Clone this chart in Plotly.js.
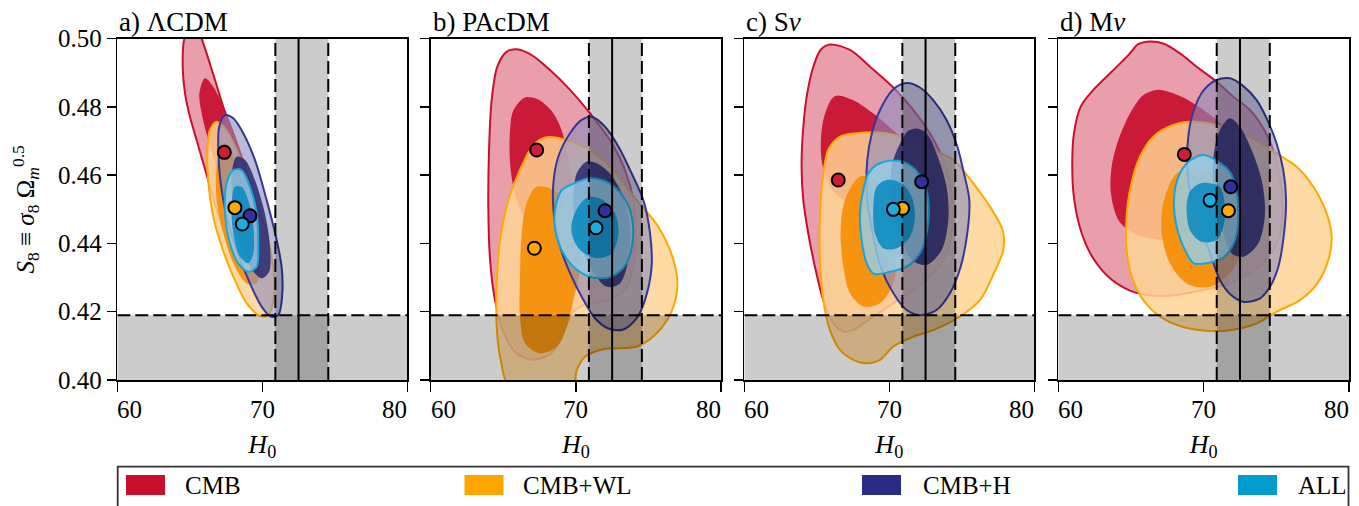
<!DOCTYPE html>
<html><head><meta charset="utf-8">
<script src="https://cdn.plot.ly/plotly-3.0.1.min.js"></script>
<style>html,body{margin:0;padding:0;background:#fff;}#chart{width:1359px;height:506px;}</style>
</head><body><div id="chart"></div>
<script>
// ---------------- DATA ----------------
const datasets = ['CMB', 'CMB+WL', 'CMB+H', 'ALL'];
const panelTitles = ['a) \u039BCDM', 'b) PAcDM', 'c) S<i>\u03BD</i>', 'd) M<i>\u03BD</i>'];
const xTickVals = [60, 70, 80];
const yTickVals = [0.40, 0.42, 0.44, 0.46, 0.48, 0.50];
const xRange = [60, 80];
const yRange = [0.40, 0.50];
const H0_local = 72.5, H0_local_lo = 70.9, H0_local_hi = 74.55;
const S8_limit = 0.419;

// contour outlines [H0, S8] (95% and 68%)
const LCDM_CMB_95 = [[64.9,0.5025],[64.62,0.500],[64.51,0.4918],[64.67,0.484],[65.01,0.4771],[65.47,0.4703],[65.93,0.4635],[66.39,0.4566],[66.85,0.4498],[67.31,0.4439],[67.89,0.4371],[68.57,0.4327],[69.26,0.4317],[69.56,0.4342],[69.61,0.44],[69.49,0.4479],[69.15,0.4566],[68.57,0.4654],[68.0,0.4723],[67.31,0.48],[66.74,0.4879],[66.16,0.4957],[65.82,0.50],[65.6,0.5025]];
const LCDM_CMB_68 = [[66.05,0.4884],[66.62,0.4859],[67.31,0.48],[68.0,0.4723],[68.57,0.4645],[69.03,0.4557],[69.15,0.4479],[68.8,0.443],[68.23,0.4449],[67.54,0.4527],[66.85,0.4625],[66.28,0.4703],[65.82,0.4781],[65.66,0.484]];
const LCDM_WL_95 = [[66.85,0.4757],[66.39,0.4732],[66.21,0.4674],[66.28,0.4576],[66.62,0.4479],[67.2,0.4391],[68.0,0.4303],[68.92,0.4225],[69.84,0.4188],[70.41,0.419],[70.76,0.4234],[70.8,0.4313],[70.41,0.441],[69.72,0.4508],[68.92,0.4605],[68.11,0.4684],[67.43,0.4737]];
const LCDM_WL_68 = [[67.31,0.4693],[66.85,0.4625],[66.85,0.4527],[67.31,0.443],[68.0,0.4342],[68.92,0.4283],[69.61,0.4283],[69.84,0.4342],[69.61,0.4439],[68.92,0.4547],[68.11,0.4645],[67.66,0.4688]];
const LCDM_H_95 = [[67.43,0.4776],[67.03,0.4742],[66.97,0.4674],[67.13,0.4576],[67.54,0.4479],[68.23,0.4381],[69.15,0.4283],[69.95,0.4215],[70.57,0.4186],[71.1,0.419],[71.38,0.4254],[71.33,0.4332],[70.99,0.441],[70.3,0.4527],[69.49,0.4645],[68.69,0.4723],[68.0,0.4767]];
const LCDM_H_68 = [[68.23,0.4654],[67.89,0.4605],[68.0,0.4508],[68.46,0.441],[69.15,0.4332],[69.95,0.4298],[70.48,0.4318],[70.53,0.4391],[70.18,0.4488],[69.49,0.4586],[68.8,0.4645]];
const LCDM_ALL_95 = [[68.0,0.4615],[67.54,0.4576],[67.43,0.4488],[67.77,0.44],[68.34,0.4342],[69.03,0.4317],[69.61,0.4332],[69.72,0.4391],[69.61,0.4488],[69.15,0.4566],[68.57,0.4615]];
const LCDM_ALL_68 = [[68.11,0.4566],[67.89,0.4508],[68.0,0.443],[68.46,0.4361],[69.03,0.4342],[69.38,0.4371],[69.38,0.4449],[69.03,0.4527],[68.57,0.4566]];

const PAcDM_CMB_95 = [[65.92,0.4969],[66.96,0.4952],[68.22,0.4908],[69.6,0.485],[70.98,0.4781],[72.35,0.4703],[73.39,0.4615],[73.96,0.4527],[74.14,0.443],[74.0,0.4342],[73.5,0.4273],[72.35,0.4234],[70.75,0.4223],[69.83,0.42],[69.37,0.4161],[68.91,0.4112],[68.22,0.4076],[67.07,0.4059],[65.92,0.4078],[65.05,0.4137],[64.43,0.4234],[64.09,0.4352],[63.97,0.4508],[64.02,0.4674],[64.2,0.482],[64.59,0.4918],[65.24,0.4962]];
const PAcDM_CMB_68 = [[66.5,0.4828],[67.4,0.4822],[68.3,0.479],[68.9,0.4745],[69.3,0.469],[69.6,0.462],[69.8,0.455],[69.7,0.448],[69.2,0.442],[68.4,0.439],[67.5,0.441],[66.6,0.446],[65.9,0.453],[65.5,0.462],[65.45,0.472],[65.7,0.479]];
const PAcDM_WL_95 = [[67.99,0.4711],[69.37,0.4703],[70.98,0.4674],[72.58,0.4615],[74.19,0.4527],[75.68,0.4449],[76.72,0.4352],[76.99,0.4273],[76.53,0.4195],[75.57,0.4137],[74.19,0.4098],[71.89,0.409],[70.63,0.4068],[70.06,0.4029],[69.78,0.398],[65.47,0.398],[64.82,0.4059],[64.55,0.4156],[64.55,0.4283],[64.78,0.441],[65.35,0.4527],[66.15,0.4615],[67.07,0.4688]];
const PAcDM_WL_68 = [[67.3,0.4566],[68.45,0.4557],[69.37,0.4508],[70.06,0.443],[70.29,0.4332],[69.83,0.4234],[69.37,0.4156],[68.68,0.4098],[67.53,0.4078],[66.5,0.4107],[66.15,0.4186],[66.15,0.4303],[66.27,0.443],[66.61,0.4518]];
const PAcDM_H_95 = [[71.09,0.4771],[72.01,0.4742],[72.93,0.4684],[73.85,0.4605],[74.65,0.4527],[75.11,0.443],[75.22,0.4332],[74.76,0.4234],[74.19,0.4181],[73.27,0.4148],[72.24,0.4151],[71.32,0.4181],[70.4,0.4244],[69.6,0.4313],[68.91,0.4391],[68.5,0.4479],[68.45,0.4576],[68.79,0.4654],[69.6,0.4723],[70.4,0.4762]];
const PAcDM_H_68 = [[70.75,0.464],[70.06,0.4605],[69.83,0.4527],[70.06,0.443],[70.98,0.4332],[72.12,0.4273],[73.04,0.4283],[73.62,0.4352],[73.73,0.4449],[73.27,0.4537],[72.35,0.4605],[71.44,0.4635]];
const PAcDM_ALL_95 = [[69.6,0.4571],[70.98,0.4591],[72.24,0.4578],[73.27,0.4537],[73.85,0.4479],[73.92,0.441],[73.5,0.4342],[72.47,0.4303],[71.09,0.4301],[69.83,0.4332],[68.96,0.4386],[68.52,0.4459],[68.68,0.4522],[69.03,0.4556]];
const PAcDM_ALL_68 = [[70.52,0.4527],[69.83,0.4479],[69.71,0.443],[70.29,0.4381],[71.44,0.4357],[72.47,0.4371],[72.93,0.443],[72.7,0.4488],[71.89,0.4527],[71.09,0.4537]];

const Snu_CMB_95 = [[65.91,0.4983],[67.29,0.4967],[68.67,0.4918],[70.28,0.4857],[71.66,0.4791],[72.8,0.4723],[73.72,0.4645],[74.3,0.4547],[74.34,0.4449],[73.95,0.4371],[73.03,0.4313],[71.66,0.4264],[70.28,0.4225],[68.9,0.4186],[67.52,0.4147],[66.83,0.4142],[66.14,0.4166],[65.45,0.4234],[64.87,0.4332],[64.41,0.443],[64.07,0.4527],[63.95,0.4625],[64.07,0.4742],[64.34,0.484],[64.76,0.4918],[65.26,0.4967]];
const Snu_CMB_68 = [[66.25,0.4832],[67.52,0.482],[68.9,0.4781],[70.51,0.4723],[72.11,0.4664],[73.26,0.4586],[73.72,0.4488],[73.26,0.4391],[72.11,0.4342],[70.51,0.4371],[68.9,0.443],[67.29,0.4508],[65.91,0.4566],[65.33,0.4645],[65.45,0.4762]];
const Snu_WL_95 = [[68.21,0.4725],[69.82,0.4723],[71.43,0.4703],[73.03,0.4674],[74.41,0.4645],[75.79,0.4576],[76.94,0.4508],[77.82,0.4439],[77.86,0.4381],[77.22,0.4313],[76.25,0.4234],[74.87,0.4186],[73.03,0.4146],[71.66,0.4127],[70.28,0.4098],[69.36,0.4059],[68.44,0.4049],[67.52,0.4059],[66.6,0.4088],[65.91,0.4146],[65.45,0.4234],[65.22,0.4352],[65.22,0.4479],[65.45,0.4605],[65.79,0.4674],[66.6,0.4713]];
const Snu_WL_68 = [[67.98,0.4596],[69.01,0.4586],[69.82,0.4547],[70.28,0.4479],[70.51,0.4381],[70.28,0.4283],[69.36,0.4225],[68.21,0.4215],[67.29,0.4254],[66.83,0.4332],[66.64,0.443],[66.94,0.4527]];
const Snu_H_95 = [[71.2,0.487],[72.11,0.4857],[73.03,0.482],[73.95,0.4762],[74.69,0.4684],[75.15,0.4605],[75.52,0.4527],[75.38,0.443],[74.92,0.4332],[74.18,0.4254],[73.26,0.4205],[72.11,0.419],[71.2,0.4205],[70.28,0.4254],[69.4,0.4332],[68.85,0.443],[68.48,0.4527],[68.48,0.4645],[68.8,0.4723],[69.36,0.4791],[70.23,0.485]];
const Snu_H_68 = [[71.89,0.4737],[72.57,0.4723],[73.26,0.4664],[73.95,0.4566],[74.07,0.4469],[73.61,0.4381],[72.57,0.4337],[71.54,0.4352],[70.74,0.443],[70.16,0.4527],[70.16,0.4625],[70.74,0.4693],[71.31,0.473]];
const Snu_ALL_95 = [[69.13,0.463],[70.28,0.4643],[71.43,0.463],[72.3,0.4586],[72.69,0.4527],[72.62,0.4439],[72.11,0.4371],[71.2,0.4332],[70.05,0.4317],[68.94,0.4311],[68.44,0.4342],[68.09,0.441],[67.98,0.4488],[68.21,0.4557],[68.55,0.4605]];
const Snu_ALL_68 = [[69.82,0.4586],[69.13,0.4566],[68.9,0.4508],[69.01,0.443],[69.59,0.4386],[70.51,0.4386],[71.43,0.442],[71.77,0.4479],[71.54,0.4537],[70.86,0.4576]];

const Mnu_CMB_95 = [[66.08,0.4991],[67.22,0.4986],[68.37,0.4957],[69.52,0.4918],[70.89,0.4874],[72.04,0.483],[73.19,0.4791],[74.11,0.4737],[74.79,0.4674],[75.25,0.4586],[75.44,0.4498],[75.14,0.441],[74.33,0.4352],[73.19,0.4313],[71.81,0.4283],[69.98,0.4264],[68.14,0.4249],[66.54,0.4247],[64.93,0.4262],[63.56,0.4298],[62.41,0.4356],[61.61,0.443],[61.1,0.4527],[60.96,0.4625],[61.08,0.4723],[61.54,0.4801],[62.41,0.485],[63.67,0.4903],[64.82,0.4952],[65.5,0.4984]];
const Mnu_CMB_68 = [[66.77,0.485],[67.91,0.484],[69.29,0.4811],[70.89,0.4762],[72.27,0.4703],[73.42,0.4625],[73.88,0.4547],[73.65,0.4469],[72.73,0.442],[71.12,0.4405],[69.06,0.4405],[67.0,0.441],[65.16,0.443],[64.13,0.4469],[63.62,0.4547],[63.67,0.4625],[64.13,0.4703],[64.93,0.4781],[65.85,0.4835]];
const Mnu_WL_95 = [[69.52,0.4757],[71.35,0.4742],[73.19,0.4713],[75.02,0.4664],[76.4,0.4625],[77.55,0.4566],[78.46,0.4488],[78.81,0.442],[78.58,0.4352],[77.82,0.4283],[76.63,0.4234],[75.02,0.42],[73.65,0.4166],[71.81,0.4146],[69.98,0.4145],[68.37,0.4158],[66.99,0.4186],[65.85,0.4234],[65.05,0.4303],[64.7,0.4381],[64.7,0.4479],[64.98,0.4566],[65.62,0.4654],[66.54,0.4713],[67.91,0.4747]];
const Mnu_WL_68 = [[68.14,0.4605],[69.52,0.4615],[70.89,0.4605],[72.04,0.4566],[72.73,0.4488],[72.73,0.4391],[71.81,0.4313],[70.44,0.4273],[68.83,0.4283],[67.68,0.4342],[67.11,0.443],[67.22,0.4518]];
const Mnu_H_95 = [[70.89,0.4879],[71.81,0.4884],[72.73,0.4861],[73.65,0.482],[74.38,0.4762],[75.02,0.4693],[75.48,0.4615],[75.67,0.4527],[75.53,0.443],[75.14,0.4332],[74.56,0.4273],[73.88,0.4239],[72.73,0.4229],[71.81,0.4252],[71.12,0.4293],[70.44,0.4371],[69.75,0.4449],[69.17,0.4527],[68.88,0.4625],[68.97,0.4723],[69.33,0.4791],[69.98,0.4848]];
const Mnu_H_68 = [[71.81,0.4767],[72.5,0.4742],[73.3,0.4674],[73.99,0.4586],[74.22,0.4488],[73.76,0.44],[72.73,0.4361],[71.93,0.4371],[71.35,0.443],[70.89,0.4508],[70.62,0.4605],[70.78,0.4684],[71.24,0.4742]];
const Mnu_ALL_95 = [[69.06,0.4643],[69.98,0.4659],[70.89,0.4643],[71.81,0.461],[72.22,0.4562],[72.39,0.4488],[72.16,0.441],[71.35,0.4359],[70.21,0.4342],[69.33,0.4342],[68.83,0.4371],[68.26,0.443],[67.96,0.4508],[68.14,0.4581],[68.56,0.462]];
const Mnu_ALL_68 = [[69.75,0.4576],[69.06,0.4552],[68.83,0.4508],[69.06,0.4439],[69.86,0.4405],[70.89,0.441],[71.35,0.4449],[71.47,0.4508],[71.12,0.4566],[70.55,0.4576]];

// best-fit points (order: CMB, CMB+WL, CMB+H, ALL)
const LCDM_bf_H0 = [67.38, 68.11, 69.15, 68.62];
const LCDM_bf_S8 = [0.4667, 0.4505, 0.4481, 0.4457];
const PAcDM_bf_H0 = [67.30, 67.14, 72.01, 71.39];
const PAcDM_bf_S8 = [0.4674, 0.4386, 0.4496, 0.4446];
const Snu_bf_H0 = [66.48, 70.92, 72.23, 70.28];
const Snu_bf_S8 = [0.4586, 0.4503, 0.4581, 0.4500];
const Mnu_bf_H0 = [68.67, 71.70, 71.86, 70.44];
const Mnu_bf_S8 = [0.4661, 0.4496, 0.4566, 0.4527];

// ---------------- STYLE / BUILD ----------------
const FONT = '"Liberation Serif", "DejaVu Serif", serif';
const W = 1359, H = 506;
const legendRGB = ['200,16,46', '255,165,0', '42,42,135', '0,156,204'];
const fill95 = ['rgba(200,16,46,0.4)', 'rgba(253,212,148,0.86)', 'rgba(140,140,192,0.6)', 'rgba(150,205,230,0.82)'];
const fill68 = ['rgba(200,16,46,0.93)', 'rgba(245,140,0,0.88)', 'rgba(40,40,112,0.85)', 'rgba(10,138,192,0.88)'];
const lineCol = ['rgb(200,16,46)', 'rgb(255,168,0)', 'rgb(55,55,150)', 'rgb(25,165,215)'];
const dotColors = ['rgb(208,28,52)', 'rgb(255,168,0)', 'rgb(48,48,158)', 'rgb(30,172,222)'];
const xDomPx = [[117.3,407.3],[430.7,721],[744.3,1034.3],[1058.3,1349]];
const yDomPx = [38.7, 380];

const panels = [
  {contours: [[LCDM_CMB_95,LCDM_CMB_68],[LCDM_WL_95,LCDM_WL_68],[LCDM_H_95,LCDM_H_68],[LCDM_ALL_95,LCDM_ALL_68]], bfx: LCDM_bf_H0, bfy: LCDM_bf_S8},
  {contours: [[PAcDM_CMB_95,PAcDM_CMB_68],[PAcDM_WL_95,PAcDM_WL_68],[PAcDM_H_95,PAcDM_H_68],[PAcDM_ALL_95,PAcDM_ALL_68]], bfx: PAcDM_bf_H0, bfy: PAcDM_bf_S8},
  {contours: [[Snu_CMB_95,Snu_CMB_68],[Snu_WL_95,Snu_WL_68],[Snu_H_95,Snu_H_68],[Snu_ALL_95,Snu_ALL_68]], bfx: Snu_bf_H0, bfy: Snu_bf_S8},
  {contours: [[Mnu_CMB_95,Mnu_CMB_68],[Mnu_WL_95,Mnu_WL_68],[Mnu_H_95,Mnu_H_68],[Mnu_ALL_95,Mnu_ALL_68]], bfx: Mnu_bf_H0, bfy: Mnu_bf_S8}
];

function closed(pts){ const p = pts.concat([pts[0]]); return {x: p.map(q=>q[0]), y: p.map(q=>q[1])}; }

const traces = [];
const layout = {
  width: W, height: H, margin: {l:0, r:0, t:0, b:0},
  paper_bgcolor: 'white', plot_bgcolor: 'white', showlegend: false,
  font: {family: FONT, color: 'black', size: 25},
  shapes: [], annotations: []
};

const band = 'rgba(0,0,0,0.2)';
const dashPat = '13px,5px';
const noLine = {color:'rgba(0,0,0,0)', width:0};

panels.forEach((pn, i) => {
  const s = i === 0 ? '' : String(i + 1);
  const xa = 'x' + s, ya = 'y' + s;
  const base = {type:'scatter', xaxis:xa, yaxis:ya, hoverinfo:'skip', showlegend:false};
  // credible regions
  datasets.forEach((ds, j) => {
    const o = closed(pn.contours[j][0]);
    traces.push(Object.assign({}, base, {mode:'lines', x:o.x, y:o.y, name: ds + ' 95%',
      fill:'toself', fillcolor: fill95[j], line:{color: lineCol[j], width:2, shape:'spline', smoothing:0.9}}));
    const n = closed(pn.contours[j][1]);
    traces.push(Object.assign({}, base, {mode:'lines', x:n.x, y:n.y, name: ds + ' 68%',
      fill:'toself', fillcolor: fill68[j], line:{color:'rgba(0,0,0,0)', width:0, shape:'spline', smoothing:0.9}}));
  });
  // local H0 band and S8 band
  traces.push(Object.assign({}, base, {mode:'lines', name:'H0 local',
    x:[H0_local_lo, H0_local_hi, H0_local_hi, H0_local_lo, H0_local_lo], y:[yRange[0], yRange[0], yRange[1], yRange[1], yRange[0]],
    fill:'toself', fillcolor: band, line: noLine}));
  traces.push(Object.assign({}, base, {mode:'lines', name:'S8 WL',
    x:[xRange[0], xRange[1], xRange[1], xRange[0], xRange[0]], y:[yRange[0], yRange[0], S8_limit, S8_limit, yRange[0]],
    fill:'toself', fillcolor: band, line: noLine}));
  [H0_local_lo, H0_local_hi].forEach(v => traces.push(Object.assign({}, base, {mode:'lines', x:[v, v], y:yRange,
    line:{color:'black', width:2, dash:dashPat}})));
  traces.push(Object.assign({}, base, {mode:'lines', x:[H0_local, H0_local], y:yRange, line:{color:'black', width:2}}));
  traces.push(Object.assign({}, base, {mode:'lines', x:xRange, y:[S8_limit, S8_limit], line:{color:'black', width:2, dash:dashPat}}));
  // best fits
  traces.push(Object.assign({}, base, {mode:'markers', x: pn.bfx, y: pn.bfy, text: datasets,
    marker:{size:13, color: dotColors, line:{color:'black', width:2}}}));

  const axBase = {showline:true, mirror:true, linecolor:'black', linewidth:1.5, ticks:'outside', ticklen:10,
    tickwidth:1.5, tickcolor:'black', showgrid:false, zeroline:false, tickfont:{family:FONT, size:25, color:'black'}};
  layout['xaxis' + s] = Object.assign({}, axBase, {
    domain:[xDomPx[i][0]/W, xDomPx[i][1]/W], range:xRange, anchor: ya, tickmode:'array', tickvals: xTickVals,
    showticklabels:false,
    title:{text:'<i>H</i><sub>0</sub>', font:{family:FONT, size:26}, standoff:44}
  });
  layout['yaxis' + s] = Object.assign({}, axBase, {
    domain:[1 - yDomPx[1]/H, 1 - yDomPx[0]/H], range:yRange, anchor: xa, tickmode:'array', tickvals: yTickVals,
    tickformat:'.2f', showticklabels: i === 0, ticklen:9
  });
  if (i === 0) {
    layout.yaxis.title = {text:'<i>S</i><sub>8</sub> \u2261 <i>\u03C3</i><sub>8</sub> \u03A9<sub><i>m</i></sub><sup>0.5</sup>', font:{family:FONT, size:25}, standoff:16};
  }
  // x tick labels (outer labels aligned inward, as in the reference)
  xTickVals.forEach((v, k) => {
    layout.annotations.push({xref:xa, yref:ya + ' domain', x:v, y:0, yanchor:'middle', yshift:-29,
      xanchor: k === 0 ? 'left' : (k === xTickVals.length - 1 ? 'right' : 'center'), xshift: k === 0 ? -2 : (k === xTickVals.length - 1 ? 2 : 0),
      text: String(v), showarrow:false, font:{family:FONT, size:25, color:'black'}});
  });
  // panel title
  layout.annotations.push({xref:xa + ' domain', yref:ya + ' domain', x:0, y:1, xanchor:'left', yanchor:'bottom',
    text: panelTitles[i], showarrow:false, font:{family:FONT, size:27, color:'black'}});
});

// legend (framed row)
const legSqPx = [126, 464.5, 862, 1238];
const legTxtPx = [183, 521, 921, 1296];
layout.shapes.push({type:'rect', xref:'paper', yref:'paper', x0:117.7/W, x1:1348.5/W, y0:1 - 540/H, y1:1 - 466.7/H,
  line:{color:'#333', width:1.8}, fillcolor:'white', layer:'above'});
datasets.forEach((ds, j) => {
  layout.shapes.push({type:'rect', xref:'paper', yref:'paper', x0:legSqPx[j]/W, x1:(legSqPx[j]+39)/W, y0:1 - 495/H, y1:1 - 475/H,
    line:{width:0}, fillcolor:`rgb(${legendRGB[j]})`, layer:'above'});
  layout.annotations.push({xref:'paper', yref:'paper', x:legTxtPx[j]/W, y:1 - 485/H, xanchor:'left', yanchor:'middle',
    text: ds, showarrow:false, font:{family:FONT, size:25, color:'black'}});
});

Plotly.newPlot('chart', traces, layout, {staticPlot:true, displayModeBar:false});
</script></body></html>
